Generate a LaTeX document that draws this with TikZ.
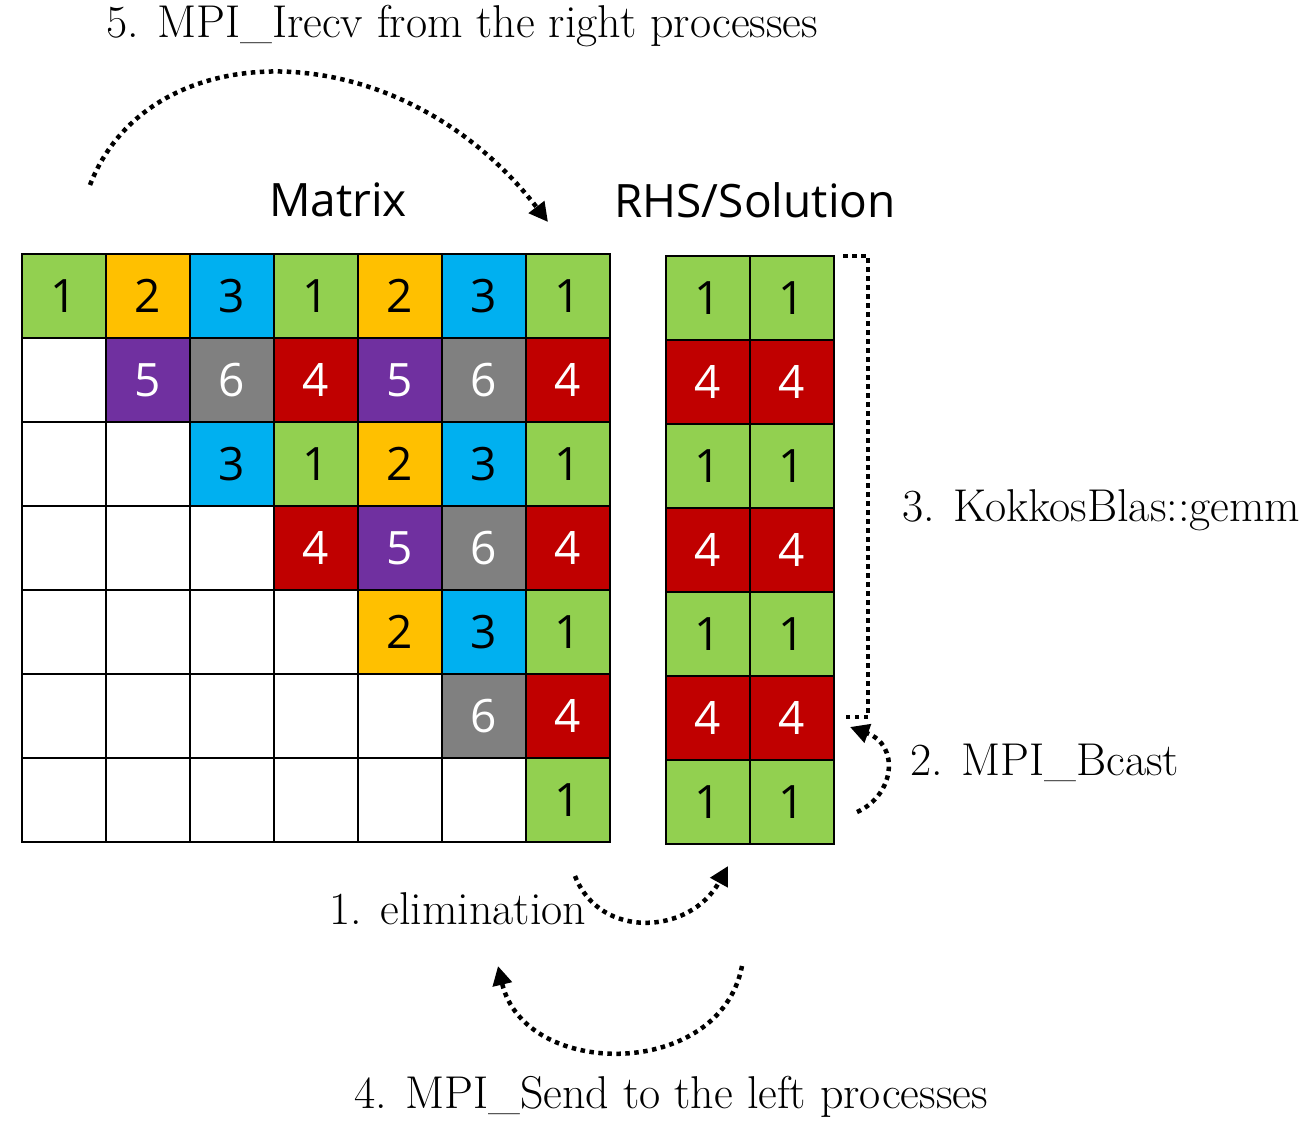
\documentclass[tikz,border=0pt]{standalone}
\usepackage{fontspec}
\setsansfont{Open Sans}
\usetikzlibrary{arrows.meta}
\definecolor{cgreen}{HTML}{92D050}
\definecolor{corange}{HTML}{FFC000}
\definecolor{cblue}{HTML}{00B0F0}
\definecolor{cpurple}{HTML}{7030A0}
\definecolor{cgray}{HTML}{808080}
\definecolor{cred}{HTML}{C00000}
\tikzset{
  cell/.style={draw=black, line width=2.8pt, minimum size=84pt, inner sep=0pt, font=\sffamily\fontsize{46}{50}\selectfont},
  G/.style={cell, fill=cgreen, text=black},
  O/.style={cell, fill=corange, text=black},
  B/.style={cell, fill=cblue, text=black},
  P/.style={cell, fill=cpurple, text=white},
  Y/.style={cell, fill=cgray, text=white},
  R/.style={cell, fill=cred, text=white},
  W/.style={cell, fill=white},
  title/.style={font=\sffamily\fontsize{46}{50}\selectfont, inner sep=0pt},
  lbl/.style={font=\fontsize{46}{50}\selectfont, inner sep=0pt},
  dotline/.style={line width=4.5pt, dash pattern=on 4.5pt off 4.5pt},
  dotarrow/.style={dotline, -{Triangle[length=19pt,width=19pt]}},
}
\begin{document}
\begin{tikzpicture}[x=1pt,y=-1pt]
\useasboundingbox (0,0) rectangle (1312,1121);
% matrix
\foreach \row [count=\j from 0] in {
  {G/1,O/2,B/3,G/1,O/2,B/3,G/1},
  {W/,P/5,Y/6,R/4,P/5,Y/6,R/4},
  {W/,W/,B/3,G/1,O/2,B/3,G/1},
  {W/,W/,W/,R/4,P/5,Y/6,R/4},
  {W/,W/,W/,W/,O/2,B/3,G/1},
  {W/,W/,W/,W/,W/,Y/6,R/4},
  {W/,W/,W/,W/,W/,W/,G/1}}
{
  \foreach \s/\n [count=\i from 0] in \row
    \node[\s] (m-\j-\i) at ({64+84*\i},{296+84*\j}) {\n};
}
% RHS
\foreach \s/\n [count=\j from 0] in {G/1,R/4,G/1,R/4,G/1,R/4,G/1}
{
  \node[\s] (r-\j-0) at (708,{298+84*\j}) {\n};
  \node[\s] (r-\j-1) at (792,{298+84*\j}) {\n};
}
% titles
\node[title] (tmat) at (338,200) {Matrix};
\node[title] (trhs) at (755,200) {RHS/Solution};
% labels
\node[lbl] (l5) at (462,26) {5. MPI\_Irecv from the right processes};
\node[lbl, anchor=west] (l3) at (902,510) {3. KokkosBlas::gemm};
\node[lbl, anchor=west] (l2) at (910,763) {2. MPI\_Bcast};
\node[lbl] (l1) at (458,909) {1. elimination};
\node[lbl] (l4) at (671,1097) {4. MPI\_Send to the left processes};
% arrow coordinates
\coordinate (a5s) at (90,185);
\coordinate (a5e) at (548,222);
\coordinate (a3s) at (843,256);
\coordinate (a3c) at (868,717);
\coordinate (a3e) at (846,717);
\coordinate (a2s) at (857,812);
\coordinate (a2e) at (850,727);
\coordinate (a1s) at (575,876);
\coordinate (a1e) at (728,866);
\coordinate (a4s) at (742,966);
\coordinate (a4e) at (498,966);
% arrows
\draw[dotarrow] (a5s) .. controls (150,30) and (400,30) .. (a5e);
\draw[dotline] (a3s) -| (a3c) -- (a3e);
\draw[dotarrow] (a2s) .. controls (895,795) and (900,745) .. (a2e);
\draw[dotarrow] (a1s) .. controls (600,940) and (690,935) .. (a1e);
\draw[dotarrow] (a4s) .. controls (720,1080) and (525,1080) .. (a4e);
\end{tikzpicture}
\end{document}
